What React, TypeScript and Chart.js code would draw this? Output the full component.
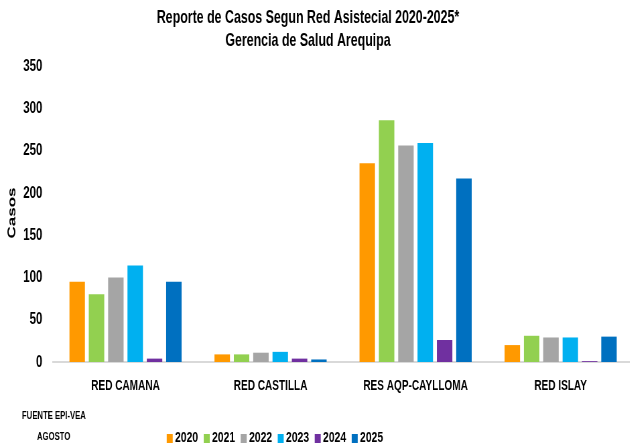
import React, { useEffect, useRef } from "react";
import { Chart, registerables } from "chart.js";

Chart.register(...registerables);

// ---- data ----
const categories = ["RED CAMANA", "RED CASTILLA", "RES AQP-CAYLLOMA", "RED ISLAY"];
const years = ["2020", "2021", "2022", "2023", "2024", "2025"];
const v2020 = [95, 9, 235, 20];
const v2021 = [80, 9, 286, 31];
const v2022 = [100, 11, 256, 29];
const v2023 = [114, 12, 259, 29];
const v2024 = [4, 4, 26, 1];
const v2025 = [95, 3, 217, 30];
const seriesValues = [v2020, v2021, v2022, v2023, v2024, v2025];
const seriesColors = ["#FF9900", "#92D050", "#A5A5A5", "#00B0F0", "#7030A0", "#0070C0"];
const yMin = 0;
const yMax = 350;
const yStep = 50;
const titleLines = ["Reporte de Casos Segun Red Asistecial 2020-2025*", "Gerencia de Salud Arequipa"];
const yAxisTitle = "Casos";
const footerLines = ["FUENTE EPI-VEA", "AGOSTO"];

// ---- layout ----
const S = 0.67; // horizontal compression of the whole drawing
const CW = 955;
const CH = 448;
const FONT = "'Liberation Sans', Arial, Helvetica, sans-serif";

const overlayPlugin = {
  id: "overlay",
  afterDraw(chart: any) {
    const ctx = chart.ctx as CanvasRenderingContext2D;
    ctx.save();
    ctx.fillStyle = "#000";
    // title
    ctx.font = `bold 18.5px ${FONT}`;
    ctx.textAlign = "center";
    ctx.textBaseline = "middle";
    ctx.fillText(titleLines[0], 308 / S, 18);
    ctx.fillText(titleLines[1], 308 / S, 41);
    // y axis title
    ctx.save();
    ctx.translate(12 / S, 213);
    ctx.rotate(-Math.PI / 2);
    ctx.font = `bold 17px ${FONT}`;
    ctx.fillText(yAxisTitle, 0, 0);
    ctx.restore();
    // footer
    ctx.textAlign = "left";
    ctx.font = `bold 11.5px ${FONT}`;
    ctx.fillText(footerLines[0], 22 / S, 416);
    ctx.fillText(footerLines[1], 37 / S, 437);
    // legend
    const ds = chart.data.datasets;
    ctx.font = `bold 15.5px ${FONT}`;
    for (let i = 0; i < ds.length; i++) {
      const bx = (166.7 + i * 37) / S;
      ctx.fillStyle = ds[i].backgroundColor;
      ctx.fillRect(bx, 434, 6 / S, 9);
      ctx.fillStyle = "#000";
      ctx.fillText(ds[i].label, bx + 8.3 / S, 438);
    }
    ctx.restore();
  },
};

export default function App() {
  const ref = useRef<HTMLCanvasElement | null>(null);
  useEffect(() => {
    if (!ref.current) return;
    const chart = new Chart(ref.current, {
      type: "bar",
      data: {
        labels: categories,
        datasets: years.map((y, i) => ({
          label: y,
          data: seriesValues[i],
          backgroundColor: seriesColors[i],
          borderWidth: 0,
          categoryPercentage: 0.8,
          barPercentage: 0.8,
        })),
      },
      options: {
        animation: false,
        responsive: false,
        devicePixelRatio: 1,
        layout: { padding: { left: 0, right: 10, top: 66, bottom: 36 } },
        plugins: {
          legend: { display: false },
          title: { display: false },
          tooltip: { enabled: false },
        },
        scales: {
          x: {
            grid: { display: false, drawTicks: false },
            border: { display: true, color: "#D9D9D9", width: 2 },
            ticks: {
              color: "#000",
              font: { family: FONT, size: 15, weight: "bold" },
              padding: 15,
              maxRotation: 0,
              autoSkip: false,
            },
            afterFit: (s: any) => {
              s.height = 50;
            },
          },
          y: {
            min: yMin,
            max: yMax,
            grid: { display: false, drawTicks: false },
            border: { display: false },
            ticks: {
              stepSize: yStep,
              color: "#000",
              font: { family: FONT, size: 17, weight: "bold" },
              padding: 16,
            },
            afterFit: (s: any) => {
              s.width = 53 / S;
            },
          },
        },
      },
      plugins: [overlayPlugin],
    });
    return () => chart.destroy();
  }, []);
  return (
    <div
      style={{
        position: "absolute",
        left: 0,
        top: 0,
        width: 630,
        height: 448,
        overflow: "hidden",
        background: "#fff",
      }}
    >
      <div style={{ width: CW, height: CH, transform: `scaleX(${S})`, transformOrigin: "0 0" }}>
        <canvas ref={ref} width={CW} height={CH} style={{ display: "block" }} />
      </div>
    </div>
  );
}
